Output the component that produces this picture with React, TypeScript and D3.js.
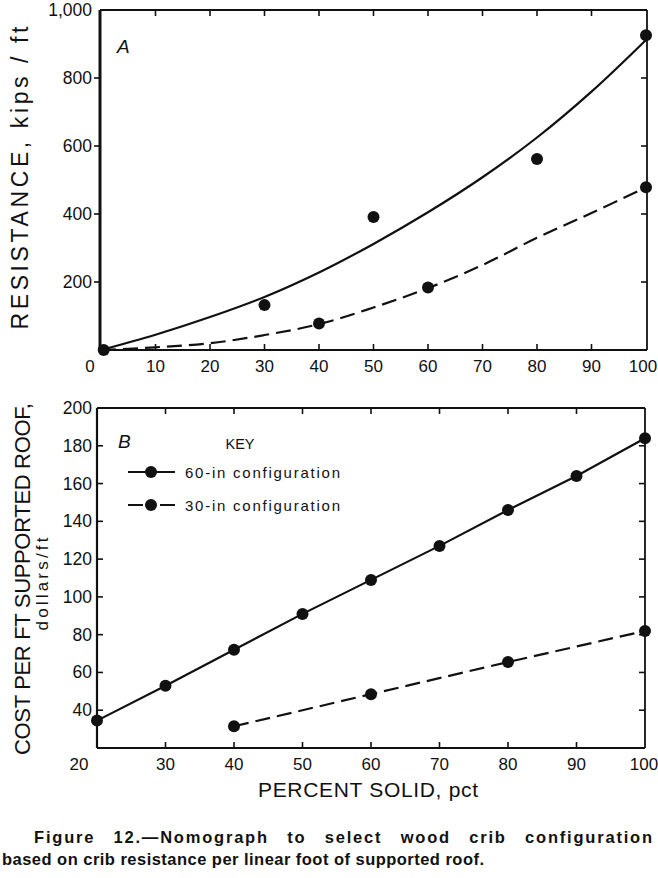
import React from "react";
import * as d3 from "d3";

// ---------- Panel A data ----------
const aCurveX = [0, 10, 20, 30, 40, 50, 60, 70, 80, 90, 100];
const aSolidCurve = [0, 45, 97, 156, 228, 312, 405, 508, 625, 760, 912];
const aDashedCurve = [0, 8, 20, 44, 76, 125, 182, 250, 330, 403, 478];
const aSolidPtsX = [0.5, 30, 50, 80, 100];
const aSolidPtsY = [0, 132, 391, 562, 926];
const aDashedPtsX = [40, 60, 100];
const aDashedPtsY = [78, 184, 479];
const aXTicks = [0, 10, 20, 30, 40, 50, 60, 70, 80, 90, 100];
const aYTicks = [200, 400, 600, 800, 1000];

// ---------- Panel B data ----------
const bSolidX = [20, 30, 40, 50, 60, 70, 80, 90, 100];
const bSolidY = [34.5, 53, 72, 91, 109, 127, 146, 164, 184];
const bDashedX = [40, 60, 80, 100];
const bDashedY = [31.5, 48.5, 65.5, 82];
const bXTicks = [20, 30, 40, 50, 60, 70, 80, 90, 100];
const bYTicks = [40, 60, 80, 100, 120, 140, 160, 180, 200];

const FONT = "'Liberation Sans', Arial, Helvetica, sans-serif";

export default function App() {
  const ax = d3.scaleLinear().domain([0, 100]).range([101, 646]);
  const ay = d3.scaleLinear().domain([0, 1000]).range([350, 10]);
  const bx = d3.scaleLinear().domain([20, 100]).range([97, 645]);
  const by = d3.scaleLinear().domain([20, 200]).range([748, 408]);

  const aLine = d3
    .line<number>()
    .x((_, i) => ax(aCurveX[i]))
    .curve(d3.curveCatmullRom);
  const aSolidPath = aLine.y((d) => ay(d))(aSolidCurve) || "";
  const aDashedPath = aLine.y((d) => ay(d))(aDashedCurve) || "";

  const bSolidPath =
    d3
      .line<number>()
      .x((_, i) => bx(bSolidX[i]))
      .y((d) => by(d))(bSolidY) || "";
  const bDashedPath =
    d3
      .line<number>()
      .x((_, i) => bx(bDashedX[i]))
      .y((d) => by(d))(bDashedY) || "";

  const fmt = d3.format(",");
  const tickLen = 6;

  return (
    <svg
      width={658}
      height={878}
      style={{ position: "absolute", left: 0, top: 0, display: "block", background: "#fff" }}
      fontFamily={FONT}
    >
      <rect x={0} y={0} width={658} height={878} fill="#fff" />

      {/* ================= Panel A ================= */}
      <g>
        <line x1={100} x2={100} y1={ay(1000)} y2={ay(0) + 1} stroke="#111" strokeWidth={3} />
        <line x1={100} x2={ax(100) + 1} y1={ay(0)} y2={ay(0)} stroke="#111" strokeWidth={2} />
        <line x1={100} x2={ax(100) + 1} y1={ay(1000)} y2={ay(1000)} stroke="#111" strokeWidth={1.8} />
        <line x1={ax(100) + 1} x2={ax(100) + 1} y1={ay(1000)} y2={ay(0)} stroke="#111" strokeWidth={1.8} />

        {aXTicks.slice(1, -1).map((t) => (
          <g key={"axt" + t}>
            <line x1={ax(t)} x2={ax(t)} y1={ay(1000)} y2={ay(1000) + tickLen} stroke="#111" strokeWidth={1.6} />
            <line x1={ax(t)} x2={ax(t)} y1={ay(0)} y2={ay(0) - tickLen} stroke="#111" strokeWidth={1.6} />
          </g>
        ))}
        {aYTicks.slice(0, -1).map((t) => (
          <g key={"ayt" + t}>
            <line x1={100} x2={100 - tickLen} y1={ay(t)} y2={ay(t)} stroke="#111" strokeWidth={1.6} />
            <line x1={ax(100) + 1} x2={ax(100) + 1 - tickLen} y1={ay(t)} y2={ay(t)} stroke="#111" strokeWidth={1.6} />
          </g>
        ))}

        {aXTicks.map((t) => (
          <text
            key={"axl" + t}
            x={t === 0 ? ax(t) - 11 : t === 100 ? ax(t) - 3 : ax(t)}
            y={372}
            textAnchor="middle"
            fontSize={17}
            fill="#111"
          >
            {t}
          </text>
        ))}
        {aYTicks.map((t) => (
          <text key={"ayl" + t} x={92} y={ay(t) + 6} textAnchor="end" fontSize={17.5} fill="#111">
            {fmt(t)}
          </text>
        ))}

        <text
          transform={`translate(28,178) rotate(-90)`}
          textAnchor="middle"
          fontSize={23}
          fill="#111"
          textLength={303}
          lengthAdjust="spacing"
        >
          RESISTANCE, kips / ft
        </text>

        <text x={117} y={53} fontSize={19} fontStyle="italic" fill="#111">
          A
        </text>

        <path d={aSolidPath} fill="none" stroke="#111" strokeWidth={2.2} />
        <path d={aDashedPath} fill="none" stroke="#111" strokeWidth={2.2} strokeDasharray="15,7" />

        {aSolidPtsX.map((x, i) => (
          <circle key={"asp" + i} cx={ax(x)} cy={ay(aSolidPtsY[i])} r={6} fill="#111" />
        ))}
        {aDashedPtsX.map((x, i) => (
          <circle key={"adp" + i} cx={ax(x)} cy={ay(aDashedPtsY[i])} r={6} fill="#111" />
        ))}
      </g>

      {/* ================= Panel B ================= */}
      <g>
        <line x1={bx(20)} x2={bx(20)} y1={by(200)} y2={by(20)} stroke="#111" strokeWidth={2.2} />
        <line x1={bx(20)} x2={bx(100)} y1={by(20)} y2={by(20)} stroke="#111" strokeWidth={2.2} />
        <line x1={bx(20)} x2={bx(100)} y1={by(200)} y2={by(200)} stroke="#111" strokeWidth={1.8} />
        <line x1={bx(100)} x2={bx(100)} y1={by(200)} y2={by(20)} stroke="#111" strokeWidth={1.8} />

        {bXTicks.slice(1, -1).map((t) => (
          <g key={"bxt" + t}>
            <line x1={bx(t)} x2={bx(t)} y1={by(200)} y2={by(200) + tickLen} stroke="#111" strokeWidth={1.6} />
            <line x1={bx(t)} x2={bx(t)} y1={by(20)} y2={by(20) - tickLen} stroke="#111" strokeWidth={1.6} />
          </g>
        ))}
        {bYTicks.slice(0, -1).map((t) => (
          <g key={"byt" + t}>
            <line x1={bx(20)} x2={bx(20) + tickLen} y1={by(t)} y2={by(t)} stroke="#111" strokeWidth={1.6} />
            <line x1={bx(100)} x2={bx(100) - tickLen} y1={by(t)} y2={by(t)} stroke="#111" strokeWidth={1.6} />
          </g>
        ))}

        {bXTicks.map((t) => (
          <text
            key={"bxl" + t}
            x={t === 20 ? bx(t) - 18 : t === 100 ? bx(t) - 1 : bx(t)}
            y={770}
            textAnchor="middle"
            fontSize={17}
            fill="#111"
          >
            {t}
          </text>
        ))}
        {bYTicks.map((t) => (
          <text key={"byl" + t} x={92} y={by(t) + 6} textAnchor="end" fontSize={17.5} fill="#111">
            {t}
          </text>
        ))}

        <text
          transform={`translate(30,579) rotate(-90)`}
          textAnchor="middle"
          fontSize={22}
          fill="#111"
          textLength={352}
          lengthAdjust="spacing"
        >
          COST PER FT SUPPORTED ROOF,
        </text>
        <text
          transform={`translate(48,584) rotate(-90)`}
          textAnchor="middle"
          fontSize={17}
          fill="#111"
          textLength={93}
          lengthAdjust="spacing"
        >
          dollars/ft
        </text>
        <text x={368} y={797} textAnchor="middle" fontSize={21} fill="#111" textLength={220} lengthAdjust="spacing">
          PERCENT SOLID, pct
        </text>

        <text x={118} y={448} fontSize={19} fontStyle="italic" fill="#111">
          B
        </text>

        <text x={240} y={449} textAnchor="middle" fontSize={14.5} fill="#111">
          KEY
        </text>
        <line x1={128} x2={175} y1={472} y2={472} stroke="#111" strokeWidth={2.2} />
        <circle cx={151} cy={472} r={6} fill="#111" />
        <text x={185} y={478} fontSize={15} fill="#111" textLength={155} lengthAdjust="spacing">
          60-in configuration
        </text>
        <line x1={128} x2={175} y1={505} y2={505} stroke="#111" strokeWidth={2.2} strokeDasharray="15,17" />
        <circle cx={151} cy={505} r={6} fill="#111" />
        <text x={185} y={511} fontSize={15} fill="#111" textLength={155} lengthAdjust="spacing">
          30-in configuration
        </text>

        <path d={bSolidPath} fill="none" stroke="#111" strokeWidth={2.2} />
        <path d={bDashedPath} fill="none" stroke="#111" strokeWidth={2.2} strokeDasharray="15,7" />
        {bSolidX.map((x, i) => (
          <circle key={"bsp" + i} cx={bx(x)} cy={by(bSolidY[i])} r={6} fill="#111" />
        ))}
        {bDashedX.map((x, i) => (
          <circle key={"bdp" + i} cx={bx(x)} cy={by(bDashedY[i])} r={6} fill="#111" />
        ))}
      </g>

      {/* caption */}
      <text
        x={34}
        y={843}
        fontSize={16.5}
        fontWeight="bold"
        fill="#111"
        style={{ wordSpacing: "12px" }}
        textLength={618}
        lengthAdjust="spacing"
      >
        Figure 12.—Nomograph to select wood crib configuration
      </text>
      <text
        x={2}
        y={865}
        fontSize={16.5}
        fontWeight="bold"
        fill="#111"
        textLength={482}
        lengthAdjust="spacing"
      >
        based on crib resistance per linear foot of supported roof.
      </text>
    </svg>
  );
}
